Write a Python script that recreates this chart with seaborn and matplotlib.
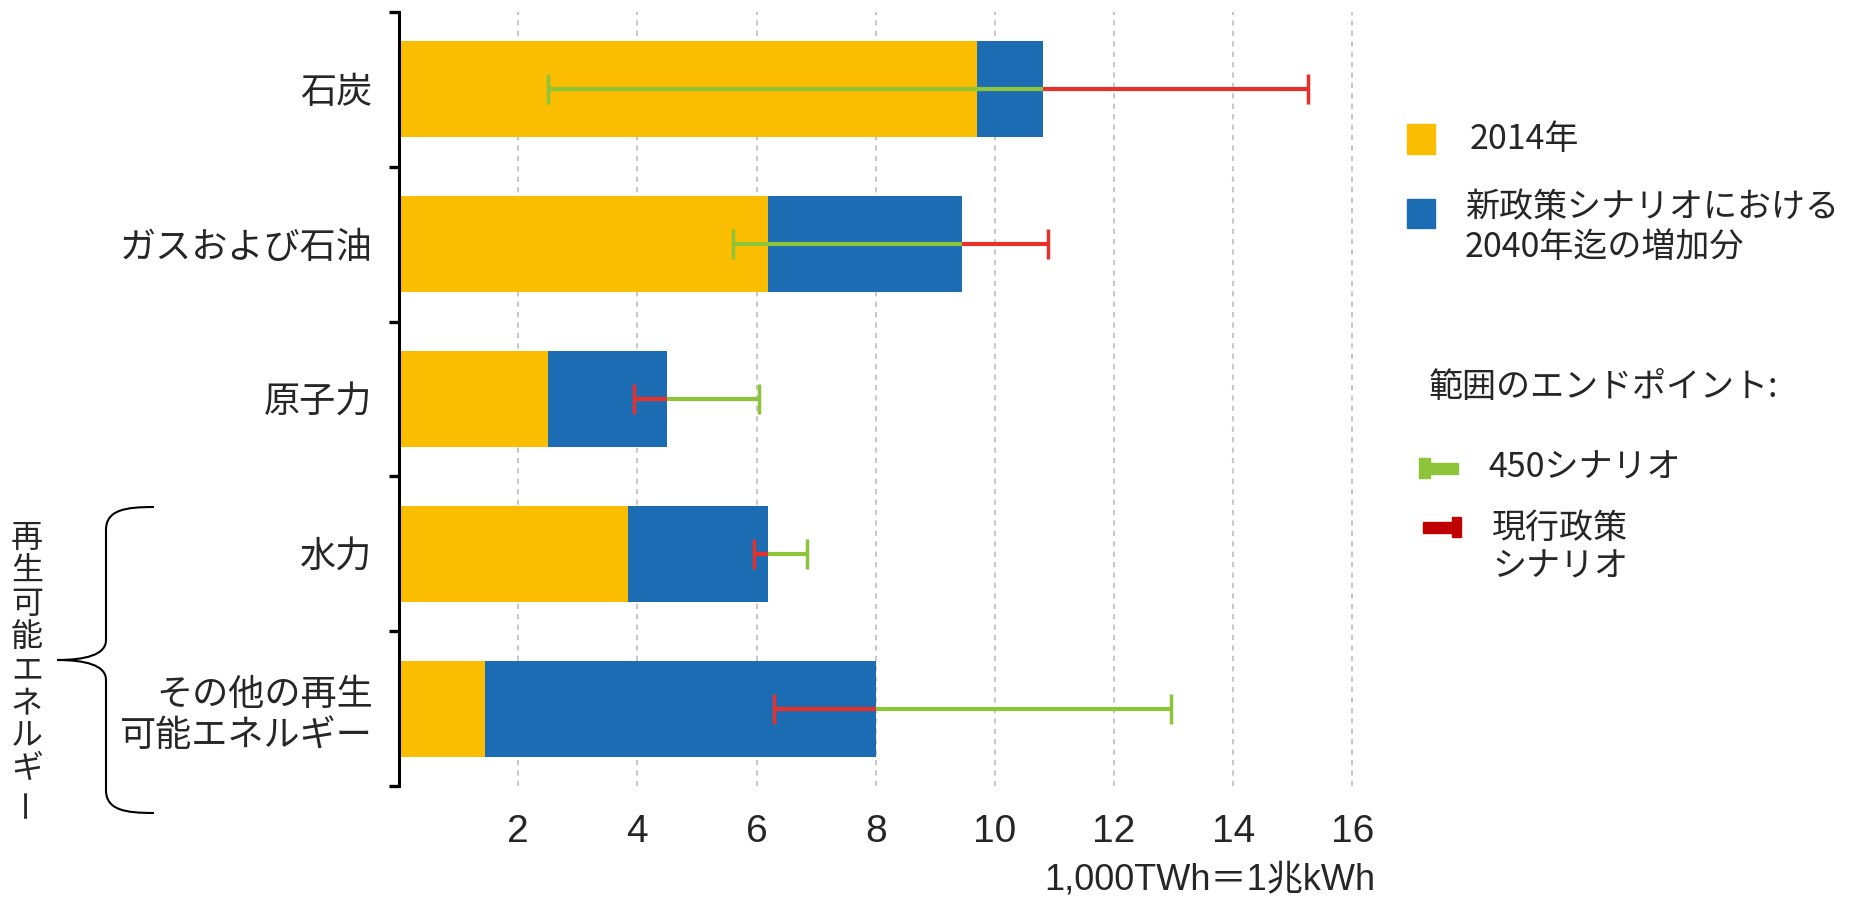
import matplotlib
matplotlib.use('Agg')
import matplotlib.pyplot as plt
import seaborn as sns
import pandas as pd
from matplotlib.path import Path
from matplotlib.patches import PathPatch, Rectangle
from matplotlib import font_manager

# 発電量 (1,000TWh)
categories = ['石炭', 'ガスおよび石油', '原子力', '水力', 'その他の再生\n可能エネルギー']
gen_2014 = [9.7, 6.2, 2.5, 3.85, 1.45]
total_2040 = [10.8, 9.45, 4.5, 6.2, 8.0]      # 新政策シナリオ 2040年
end_450 = [2.5, 5.6, 6.05, 6.85, 12.95]        # 450シナリオ
end_current = [15.25, 10.9, 3.95, 5.95, 6.3]   # 現行政策シナリオ
xticks = [2, 4, 6, 8, 10, 12, 14, 16]

YELLOW = '#fbbd00'
BLUE = '#1c6cb4'
GREEN = '#8dc43a'
RED = '#e8302a'
RED_LEG = '#c00000'

df = pd.DataFrame({'cat': categories, 'y2014': gen_2014, 'total': total_2040})

sns.set_style('white')
plt.rcParams['font.family'] = ['Noto Sans CJK JP', 'DejaVu Sans']

names = {f.name for f in font_manager.fontManager.ttflist}
narrow = 'Liberation Sans Narrow' if 'Liberation Sans Narrow' in names else 'Liberation Sans'

W, H = 1858, 899
fig = plt.figure(figsize=(W / 100, H / 100), dpi=100)
ax = fig.add_axes([399 / W, 1 - 786 / H, (1375 - 399) / W, (786 - 12) / H])

sns.barplot(data=df, x='total', y='cat', color=BLUE, width=0.62, orient='h',
            saturation=1, linewidth=0, errorbar=None, ax=ax, zorder=2)
sns.barplot(data=df, x='y2014', y='cat', color=YELLOW, width=0.62, orient='h',
            saturation=1, linewidth=0, errorbar=None, ax=ax, zorder=2)

for i, (t, g, r) in enumerate(zip(total_2040, end_450, end_current)):
    for end, c in ((g, GREEN), (r, RED)):
        ax.plot([t, end], [i, i], color=c, lw=3, solid_capstyle='butt', zorder=4)
        ax.plot([end], [i], marker='|', ms=22, mew=2.5, color=c, zorder=4)

ax.set_xlim(0, 16.38)
ax.set_ylim(4.5, -0.5)
ax.set_xlabel('')
ax.set_ylabel('')

ax.set_xticks(xticks)
ax.set_xticklabels([str(v) for v in xticks], fontsize=28, family=[narrow, 'DejaVu Sans'])
ax.tick_params(axis='x', length=0, pad=20)

ax.set_yticks(range(len(categories)))
ax.set_yticklabels(categories, fontsize=26)
ax.tick_params(axis='y', which='major', left=True, length=0, pad=19)
ax.set_yticks([k - 0.5 for k in range(len(categories) + 1)], minor=True)
ax.tick_params(axis='y', which='minor', left=True, length=7, width=2.4,
               color='black', direction='out')

for s in ('top', 'right', 'bottom'):
    ax.spines[s].set_visible(False)
ax.spines['left'].set_linewidth(2.2)
ax.spines['left'].set_color('black')

ax.grid(axis='x', ls=(0, (2.5, 2.5)), color='#c8c8c8', lw=1.5)
ax.grid(axis='y', visible=False)
ax.set_axisbelow(True)

# オーバーレイ (ピクセル座標)
ov = fig.add_axes([0, 0, 1, 1])
ov.set_xlim(0, W)
ov.set_ylim(H, 0)
ov.axis('off')
ov.patch.set_alpha(0)

# 凡例
ov.add_patch(Rectangle((1407, 124), 28, 30, color=YELLOW))
ov.text(1470, 139, '2014年', fontsize=24.5, va='center', ha='left')
ov.add_patch(Rectangle((1407, 199), 28, 29, color=BLUE))
ov.text(1465, 208, '新政策シナリオにおける', fontsize=24.5, va='center', ha='left')
ov.text(1465, 247, '2040年迄の増加分', fontsize=24.5, va='center', ha='left')
ov.text(1429, 388, '範囲のエンドポイント:', fontsize=24.5, va='center', ha='left')

ov.add_patch(Rectangle((1419, 458), 11, 20, color=GREEN))
ov.add_patch(Rectangle((1430, 463), 28, 11, color=GREEN))
ov.text(1488, 468, '450シナリオ', fontsize=24.5, va='center', ha='left')
ov.add_patch(Rectangle((1423, 522), 29, 11, color=RED_LEG))
ov.add_patch(Rectangle((1452, 517), 9, 20, color=RED_LEG))
ov.text(1492, 528, '現行政策', fontsize=24.5, va='center', ha='left')
ov.text(1492, 567, 'シナリオ', fontsize=24.5, va='center', ha='left')

ov.text(1375, 880, '1,000TWh＝1兆kWh', fontsize=26, va='center', ha='right',
        family=[narrow, 'Noto Sans CJK JP'])

# 再生可能エネルギーの括弧
verts = [(154, 507), (125, 507), (106, 510), (106, 530),
         (106, 640),
         (106, 655), (85, 660), (57, 660),
         (85, 660), (106, 665), (106, 680),
         (106, 790),
         (106, 810), (125, 813), (154, 813)]
codes = [Path.MOVETO, Path.CURVE4, Path.CURVE4, Path.CURVE4,
         Path.LINETO,
         Path.CURVE4, Path.CURVE4, Path.CURVE4,
         Path.CURVE4, Path.CURVE4, Path.CURVE4,
         Path.LINETO,
         Path.CURVE4, Path.CURVE4, Path.CURVE4]
ov.add_patch(PathPatch(Path(verts, codes), fill=False, lw=1.5, color='black'))

vlabel = '再生可能エネルギー'
for k, ch in enumerate(vlabel):
    ov.text(27, 538 + k * 33, ch, fontsize=23, ha='center', va='center',
            rotation=90 if ch == 'ー' else 0)

fig.savefig('out.png', dpi=100)
